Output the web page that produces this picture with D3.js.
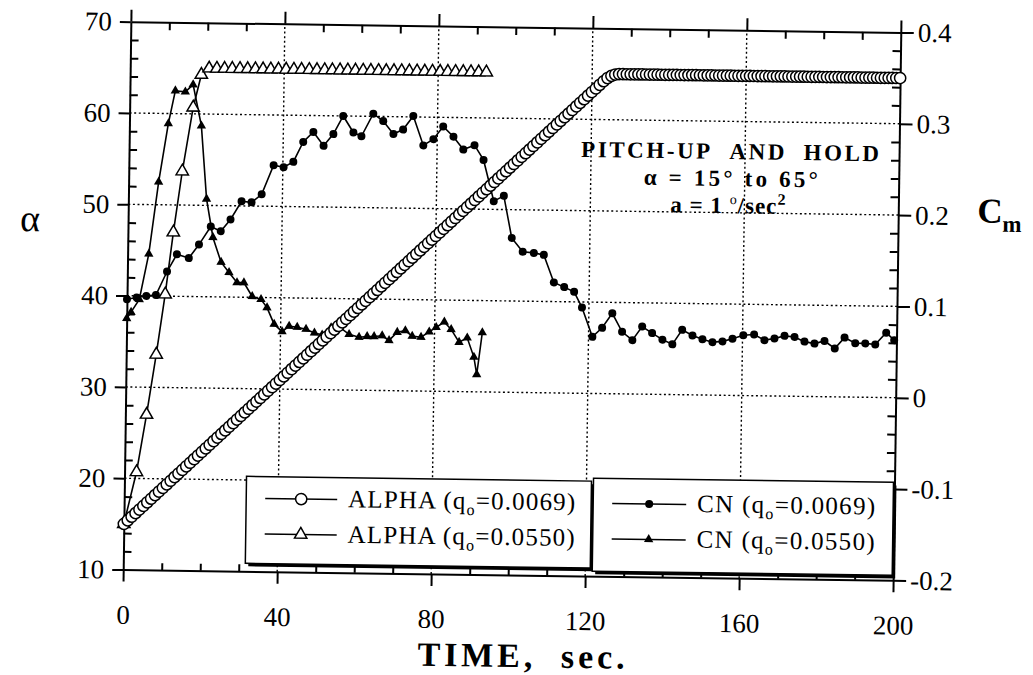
<!DOCTYPE html>
<html>
<head>
<meta charset="utf-8">
<script src="https://cdn.jsdelivr.net/npm/d3@7"></script>
<style>
  body { margin: 0; background: #fff; }
  svg { display: block; }
  text { font-family: "Liberation Serif", "Times New Roman", serif; }
</style>
</head>
<body>
<svg id="chart" width="1033" height="675"></svg>
<script>
// ALPHA, q0 = 0.0069 (open circles, left axis)
var timeA1 = [0,1,2,3,4,5,6,7,8,9,10,11,12,13,14,15,16,17,18,19,20,21,22,23,24,25,26,27,28,29,30,31,32,33,34,35,36,37,38,39,40,41,42,43,44,45,46,47,48,49,50,51,52,53,54,55,56,57,58,59,60,61,62,63,64,65,66,67,68,69,70,71,72,73,74,75,76,77,78,79,80,81,82,83,84,85,86,87,88,89,90,91,92,93,94,95,96,97,98,99,100,101,102,103,104,105,106,107,108,109,110,111,112,113,114,115,116,117,118,119,120,121,122,123,124,125,126,127,128,129,130,131,132,133,134,135,136,137,138,139,140,141,142,143,144,145,146,147,148,149,150,151,152,153,154,155,156,157,158,159,160,161,162,163,164,165,166,167,168,169,170,171,172,173,174,175,176,177,178,179,180,181,182,183,184,185,186,187,188,189,190,191,192,193,194,195,196,197,198,199,200];
var alphaA1 = [15,15.4,15.8,16.2,16.6,17,17.4,17.8,18.2,18.6,
  19,19.4,19.8,20.2,20.6,21,21.4,21.8,22.2,22.6,
  23,23.4,23.8,24.2,24.6,25,25.4,25.8,26.2,26.6,
  27,27.4,27.8,28.2,28.6,29,29.4,29.8,30.2,30.6,
  31,31.4,31.8,32.2,32.6,33,33.4,33.8,34.2,34.6,
  35,35.4,35.8,36.2,36.6,37,37.4,37.8,38.2,38.6,
  39,39.4,39.8,40.2,40.6,41,41.4,41.8,42.2,42.6,
  43,43.4,43.8,44.2,44.6,45,45.4,45.8,46.2,46.6,
  47,47.4,47.8,48.2,48.6,49,49.4,49.8,50.2,50.6,
  51,51.4,51.8,52.2,52.6,53,53.4,53.8,54.2,54.6,
  55,55.4,55.8,56.2,56.6,57,57.4,57.8,58.2,58.6,
  59,59.4,59.8,60.2,60.6,61,61.4,61.8,62.2,62.6,
  63,63.4,63.8,64.2,64.55,64.8,64.95,65,65,65,
  65,65,65,65,65,65,65,65,65,65,
  65,65,65,65,65,65,65,65,65,65,
  65,65,65,65,65,65,65,65,65,65,
  65,65,65,65,65,65,65,65,65,65,
  65,65,65,65,65,65,65,65,65,65,
  65,65,65,65,65,65,65,65,65,65,
  65,65,65,65,65,65,65,65,65,65,
  65];

// ALPHA, q0 = 0.0550 (open triangles, left axis)
var timeA2 = [0,3.1,5.5,7.8,9.9,11.8,13.9,16.5,18.5,20.5,22.5,24.5,26.5,28.5,30.5,32.5,34.5,36.5,38.5,40.5,42.5,44.5,46.5,48.5,50.5,52.5,54.5,56.5,58.5,60.5,62.5,64.5,66.5,68.5,70.5,72.5,74.5,76.5,78.5,80.5,82.5,84.5,86.5,88.5,90.5,92.5];
var alphaA2 = [15,20.7,27.0,33.6,40.2,47.0,53.7,60.7,64.3,65,65,65,65,65,65,65,65,65,65,65,65,65,65,65,65,65,65,65,65,65,65,65,65,65,65,65,65,65,65,65,65,65,65,65,65,65];

// CN, q0 = 0.0069 (filled circles, right axis)
var timeC1 = [0,2.5,5,7.5,10.3,12.8,15.9,18.5,21.5,24.1,26.6,29.4,32.0,34.6,37.6,40.2,42.7,45.2,47.8,50.5,53.0,55.5,58.2,60.3,63.3,65.9,68.6,71.1,73.7,76.4,79.0,81.5,84.2,86.8,89.7,92.1,94.9,97.5,99.7,102.6,105.5,108.1,110.8,113.5,116.1,118.2,121.0,123.5,126.1,128.7,131.4,133.9,136.5,139.2,141.8,144.3,147.0,149.6,152.2,154.8,157.4,160.2,163.0,165.7,168.3,170.9,173.5,176.1,178.7,181.3,184.0,186.5,189.3,191.9,194.5,197.3,199.4];
var cnC1 = [0.096,0.098,0.100,0.101,0.127,0.146,0.142,0.157,0.177,0.172,0.185,0.205,0.204,0.213,0.245,0.243,0.249,0.271,0.282,0.267,0.280,0.300,0.282,0.278,0.303,0.295,0.281,0.286,0.301,0.269,0.276,0.290,0.279,0.265,0.270,0.254,0.209,0.215,0.169,0.154,0.153,0.151,0.121,0.116,0.111,0.094,0.062,0.072,0.088,0.068,0.059,0.074,0.067,0.060,0.055,0.071,0.065,0.061,0.058,0.059,0.062,0.066,0.067,0.061,0.063,0.066,0.065,0.060,0.058,0.061,0.053,0.065,0.059,0.059,0.058,0.071,0.063];

// CN, q0 = 0.0550 (filled triangles, right axis)
var timeC2 = [0,1.1,3.2,5.5,7.8,10.1,11.8,14.4,16.4,18.7,20.3,22.1,24.3,26.4,28.5,30.3,32.5,34.8,36.4,38.3,40.4,42.2,44.3,46.6,48.8,50.8,53.1,55.2,57.8,60.4,62.5,64.3,66.4,68.2,70.3,72.4,74.2,76.5,78.6,80.4,82.5,84.3,86.4,88.5,90.3,91.1,92.4];
var cnC2 = [0.075,0.082,0.096,0.146,0.225,0.289,0.325,0.324,0.332,0.287,0.207,0.165,0.138,0.127,0.116,0.116,0.101,0.098,0.089,0.071,0.063,0.069,0.068,0.066,0.062,0.060,0.068,0.069,0.061,0.058,0.059,0.059,0.060,0.055,0.064,0.066,0.060,0.059,0.065,0.070,0.076,0.068,0.054,0.059,0.038,0.019,0.065];

var timeTicks = [0,40,80,120,160,200];
var alphaTicks = [10,20,30,40,50,60,70];
var cmTicks = [-0.2,-0.1,0,0.1,0.2,0.3,0.4];
var gridTime = [40,80,120,160];
var gridAlpha = [20,30,40,50,60];
var legendNames = ["ALPHA","ALPHA","CN","CN"];
var legendQ = ["=0.0069)","=0.0550)","=0.0069)","=0.0550)"];

var serif = "Liberation Serif, Times New Roman, serif";

var svg = d3.select("#chart");
// the scanned figure sits slightly rotated on the page
var g = svg.append("g").attr("transform", "rotate(0.8,512,301)");

var x = d3.scaleLinear().domain([0, 200]).range([127, 897]);
var yA = d3.scaleLinear().domain([10, 70]).range([575, 27]);
var yC = d3.scaleLinear().domain([-0.2, 0.4]).range([575, 27]);

// dotted grid
var grid = g.append("g").style("stroke", "#000").style("stroke-width", 1.4).style("stroke-dasharray", "2,2.6");
gridTime.forEach(function(v) {
  grid.append("line").attr("x1", x(v)).attr("x2", x(v)).attr("y1", yA(10)).attr("y2", yA(70));
});
gridAlpha.forEach(function(v) {
  grid.append("line").attr("x1", x(0)).attr("x2", x(200)).attr("y1", yA(v)).attr("y2", yA(v));
});

function styleAxis(sel) {
  sel.attr("font-family", serif).attr("font-size", 27);
  sel.selectAll("path,line").style("stroke", "#000").style("stroke-width", 2);
  sel.selectAll("text").style("font-family", serif).style("font-size", "27px").style("fill", "#000");
}
function noDomain(sel) { sel.select(".domain").remove(); }

var minorA = yA.ticks(30).filter(function(v) { return v % 10 !== 0; });
var minorT = x.ticks(20).filter(function(v) { return v % 40 !== 0; });
var minorC = yC.ticks(30).filter(function(v) { return Math.abs(Math.round(v * 10) - v * 10) > 1e-6; });

// left
g.append("g").attr("transform", "translate(" + x(0) + ",0)")
  .call(d3.axisLeft(yA).tickValues(alphaTicks).tickSize(11).tickSizeOuter(0).tickPadding(8)).call(styleAxis);
g.append("g").attr("transform", "translate(" + x(0) + ",0)")
  .call(d3.axisRight(yA).tickValues(minorA).tickSize(8).tickFormat("")).call(noDomain).call(styleAxis);
// bottom
g.append("g").attr("transform", "translate(0," + yA(10) + ")")
  .call(d3.axisBottom(x).tickValues(timeTicks).tickSize(12).tickSizeOuter(0).tickPadding(23)).call(styleAxis);
g.append("g").attr("transform", "translate(0," + yA(10) + ")")
  .call(d3.axisTop(x).tickValues(minorT).tickSize(7).tickFormat("")).call(noDomain).call(styleAxis);
// top
g.append("g").attr("transform", "translate(0," + yA(70) + ")")
  .call(d3.axisTop(x).tickValues(timeTicks).tickSize(12).tickSizeOuter(0).tickFormat("")).call(styleAxis);
g.append("g").attr("transform", "translate(0," + yA(70) + ")")
  .call(d3.axisBottom(x).tickValues(minorT).tickSize(8).tickFormat("")).call(noDomain).call(styleAxis);
// right
g.append("g").attr("transform", "translate(" + x(200) + ",0)")
  .call(d3.axisRight(yC).tickValues(cmTicks).tickSize(13).tickSizeOuter(0).tickPadding(4).tickFormat(function(d) { return String(d); }))
  .call(styleAxis);
g.append("g").attr("transform", "translate(" + x(200) + ",0)")
  .call(d3.axisLeft(yC).tickValues(minorC).tickSize(8).tickFormat("")).call(noDomain).call(styleAxis);

function drawLine(xs, ys, yScale) {
  var line = d3.line().x(function(d, i) { return x(xs[i]); }).y(function(d) { return yScale(d); });
  g.append("path").attr("d", line(ys)).style("fill", "none").style("stroke", "#000").style("stroke-width", 1.6);
}

// CN q0=0.0550
drawLine(timeC2, cnC2, yC);
g.append("g").selectAll("path").data(cnC2).enter().append("path")
  .attr("d", d3.symbol().type(d3.symbolTriangle).size(38))
  .attr("transform", function(d, i) { return "translate(" + x(timeC2[i]) + "," + yC(d) + ")"; })
  .style("fill", "#000");

// CN q0=0.0069
drawLine(timeC1, cnC1, yC);
g.append("g").selectAll("circle").data(cnC1).enter().append("circle")
  .attr("cx", function(d, i) { return x(timeC1[i]); }).attr("cy", function(d) { return yC(d); })
  .attr("r", 4).style("fill", "#000");

// ALPHA q0=0.0550
drawLine(timeA2, alphaA2, yA);
g.append("g").selectAll("path").data(alphaA2).enter().append("path")
  .attr("d", d3.symbol().type(d3.symbolTriangle).size(66))
  .attr("transform", function(d, i) { return "translate(" + x(timeA2[i]) + "," + yA(d) + ")"; })
  .style("fill", "#fff").style("stroke", "#000").style("stroke-width", 1.5);

// ALPHA q0=0.0069
drawLine(timeA1, alphaA1, yA);
g.append("g").selectAll("circle").data(alphaA1).enter().append("circle")
  .attr("cx", function(d, i) { return x(timeA1[i]); }).attr("cy", function(d) { return yA(d); })
  .attr("r", 5.6).style("fill", "#fff").style("stroke", "#000").style("stroke-width", 1.5);

// legend boxes with drop shadow
var boxes = [[249, 480, 594, 567], [596, 477, 896, 570]];
boxes.forEach(function(b) {
  g.append("rect").attr("x", b[0] + 3).attr("y", b[1] + 3).attr("width", b[2] - b[0]).attr("height", b[3] - b[1]).style("fill", "#000");
  g.append("rect").attr("x", b[0]).attr("y", b[1]).attr("width", b[2] - b[0]).attr("height", b[3] - b[1])
    .style("fill", "#fff").style("stroke", "#000").style("stroke-width", 1.5);
});

var rowY = [502, 537.5];
var lineX = [[268, 340], [615, 689]];
var textX = [351, 700];
var textLen = [227, 178];
legendNames.forEach(function(name, k) {
  var b = Math.floor(k / 2), r = k % 2;
  var ly = rowY[r];
  g.append("line").attr("x1", lineX[b][0]).attr("x2", lineX[b][1]).attr("y1", ly).attr("y2", ly)
    .style("stroke", "#000").style("stroke-width", 1.5);
  var mx = (lineX[b][0] + lineX[b][1]) / 2;
  if (k === 0) {
    g.append("circle").attr("cx", mx).attr("cy", ly).attr("r", 5.6).style("fill", "#fff").style("stroke", "#000").style("stroke-width", 1.5);
  } else if (k === 1) {
    g.append("path").attr("d", d3.symbol().type(d3.symbolTriangle).size(66)).attr("transform", "translate(" + mx + "," + ly + ")")
      .style("fill", "#fff").style("stroke", "#000").style("stroke-width", 1.5);
  } else if (k === 2) {
    g.append("circle").attr("cx", mx).attr("cy", ly).attr("r", 4).style("fill", "#000");
  } else {
    g.append("path").attr("d", d3.symbol().type(d3.symbolTriangle).size(38)).attr("transform", "translate(" + mx + "," + ly + ")")
      .style("fill", "#000");
  }
  var t = g.append("text").attr("x", textX[b]).attr("y", ly + 7.5)
    .attr("textLength", textLen[b]).attr("lengthAdjust", "spacing")
    .style("font-size", "25px");
  t.append("tspan").text(name + " (q");
  t.append("tspan").attr("dy", 6).style("font-size", "16px").text("o");
  t.append("tspan").attr("dy", -6).text(legendQ[k]);
});

// annotation
g.append("text").attr("x", 728).attr("y", 156).attr("text-anchor", "middle")
  .attr("textLength", 298).attr("lengthAdjust", "spacing")
  .style("font-weight", "bold").style("font-size", "23px")
  .text("PITCH-UP\u00a0\u00a0AND\u00a0\u00a0HOLD");
g.append("text").attr("x", 729).attr("y", 183).attr("text-anchor", "middle")
  .attr("textLength", 174).attr("lengthAdjust", "spacing")
  .style("font-weight", "bold").style("font-size", "23px")
  .text("\u03b1 = 15\u00b0 to 65\u00b0");
var a3 = g.append("text").attr("x", 727).attr("y", 210).attr("text-anchor", "middle")
  .style("font-weight", "bold").style("font-size", "23px").style("letter-spacing", "1px");
a3.append("tspan").text("a = 1 ");
a3.append("tspan").attr("dy", -9).style("font-size", "14px").style("font-weight", "normal").text("o");
a3.append("tspan").attr("dy", 9).text("/sec");
a3.append("tspan").attr("dy", -9).style("font-size", "16px").text("2");

// axis titles
g.append("text").attr("x", 19).attr("y", 238)
  .style("font-size", "38px").text("\u03b1");
var cm = g.append("text").attr("x", 976).attr("y", 216)
  .style("font-weight", "bold").style("font-size", "35px");
cm.append("tspan").text("C");
cm.append("tspan").attr("dy", 9).style("font-size", "23px").text("m");
g.append("text").attr("x", 526).attr("y", 667).attr("text-anchor", "middle")
  .attr("textLength", 207).attr("lengthAdjust", "spacing")
  .style("font-weight", "bold").style("font-size", "34px")
  .text("TIME,\u00a0\u00a0sec.");
</script>
</body>
</html>
